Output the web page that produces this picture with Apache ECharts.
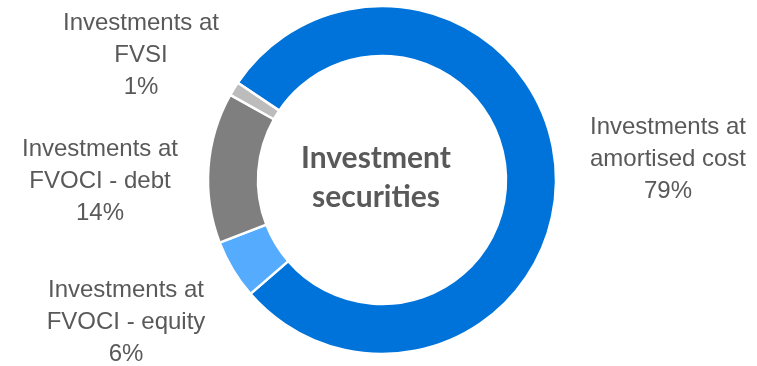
<!DOCTYPE html>
<html><head><meta charset="utf-8">
<script src="https://cdn.jsdelivr.net/npm/echarts@6/dist/echarts.min.js"></script>
<style>html,body{margin:0;padding:0;background:#fff}#c{width:757px;height:366px}</style>
</head><body><div id="c"></div>
<script>
const categories = ["Investments at\namortised cost", "Investments at\nFVOCI - equity", "Investments at\nFVOCI - debt", "Investments at\nFVSI"];
const values = [79.2, 5.5, 14.0, 1.3];
const percentLabels = ["79%", "6%", "14%", "1%"];
const colors = ["#0073DA", "#55ACFF", "#7F7F7F", "#BCBCBC"];
const centerTitle = "Investment\nsecurities";

// label anchor positions (centre of each label block)
const labelPos = [[668, 159], [126, 322], [100, 181], [141, 55]];

const chart = echarts.init(document.getElementById('c'), null, {renderer: 'canvas'});
chart.setOption({
  animation: false,
  backgroundColor: '#fff',
  series: [{
    type: 'pie',
    center: [382, 180],
    radius: [124, 174],
    startAngle: 146,
    clockwise: true,
    avoidLabelOverlap: false,
    itemStyle: {borderColor: '#fff', borderWidth: 2.5},
    label: {
      show: true,
      position: 'outside',
      formatter: p => p.name + "\n" + percentLabels[p.dataIndex],
      color: '#595959',
      fontFamily: 'Liberation Sans',
      fontSize: 24,
      lineHeight: 32,
      align: 'center'
    },
    labelLine: {show: false},
    labelLayout: p => ({
      x: labelPos[p.dataIndex][0],
      y: labelPos[p.dataIndex][1],
      align: 'center',
      verticalAlign: 'middle'
    }),
    emphasis: {disabled: true},
    data: categories.map((c, i) => ({name: c, value: values[i], itemStyle: {color: colors[i]}}))
  }],
  graphic: [{
    type: 'text',
    x: 376,
    y: 178,
    style: {
      text: centerTitle,
      fill: '#595959',
      font: 'bold 30px Lato',
      lineHeight: 39,
      align: 'center',
      verticalAlign: 'middle'
    }
  }]
});
</script></body></html>
